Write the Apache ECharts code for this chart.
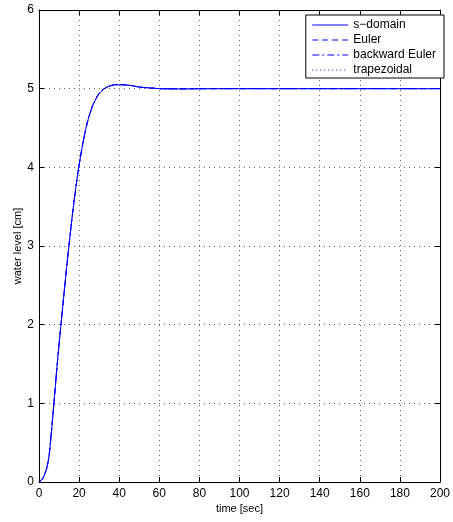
<!DOCTYPE html>
<html><head><meta charset="utf-8">
<script src="https://cdn.jsdelivr.net/npm/echarts@6/dist/echarts.min.js"></script>
<style>html,body{margin:0;padding:0;background:#fff}#c{width:453px;height:522px}</style>
</head><body><div id="c"></div>
<script>
const seriesNames = ['s\u2212domain', 'Euler', 'backward Euler', 'trapezoidal'];
const xTicks = [0, 20, 40, 60, 80, 100, 120, 140, 160, 180, 200];
const yTicks = [0, 1, 2, 3, 4, 5, 6];
const timeSec = [0,1,2,3,4,5,6,7,8,9,10,11,12,13,14,15,16,17,18,19,20,21,22,23,24,25,26,27,28,29,30,32,34,36,38,40,42,44,46,48,50,55,60,65,70,80,90,100,120,140,160,180,200];
const sDomainLevel = [0,0.02,0.05,0.11,0.19,0.33,0.58,0.87,1.17,1.47,1.75,2.01,2.27,2.53,2.78,3.02,3.25,3.47,3.67,3.86,4.03,4.18,4.32,4.45,4.56,4.65,4.73,4.80,4.85,4.90,4.94,4.99,5.02,5.04,5.05,5.05,5.05,5.045,5.04,5.03,5.02,5.01,5.0,4.998,4.997,4.999,5.0,5.0,5.0,5.0,5.0,5.0,5.0];
const eulerLevel = [0,0.02,0.05,0.11,0.19,0.33,0.58,0.87,1.17,1.47,1.75,2.01,2.27,2.53,2.78,3.02,3.25,3.47,3.67,3.86,4.03,4.18,4.32,4.45,4.56,4.65,4.73,4.80,4.85,4.90,4.94,4.99,5.02,5.04,5.05,5.05,5.05,5.045,5.04,5.03,5.02,5.01,5.0,4.998,4.997,4.999,5.0,5.0,5.0,5.0,5.0,5.0,5.0];
const backwardEulerLevel = [0,0.02,0.05,0.11,0.19,0.33,0.58,0.87,1.17,1.47,1.75,2.01,2.27,2.53,2.78,3.02,3.25,3.47,3.67,3.86,4.03,4.18,4.32,4.45,4.56,4.65,4.73,4.80,4.85,4.90,4.94,4.99,5.02,5.04,5.05,5.05,5.05,5.045,5.04,5.03,5.02,5.01,5.0,4.998,4.997,4.999,5.0,5.0,5.0,5.0,5.0,5.0,5.0];
const trapezoidalLevel = [0,0.02,0.05,0.11,0.19,0.33,0.58,0.87,1.17,1.47,1.75,2.01,2.27,2.53,2.78,3.02,3.25,3.47,3.67,3.86,4.03,4.18,4.32,4.45,4.56,4.65,4.73,4.80,4.85,4.90,4.94,4.99,5.02,5.04,5.05,5.05,5.05,5.045,5.04,5.03,5.02,5.01,5.0,4.998,4.997,4.999,5.0,5.0,5.0,5.0,5.0,5.0,5.0];

const FONT = "'Liberation Sans', Arial, Helvetica, sans-serif";
function pairs(t, v) { return t.map((x, i) => [x, v[i]]); }
const levels = [sDomainLevel, eulerLevel, backwardEulerLevel, trapezoidalLevel];
const lineTypes = ['solid', [6, 4], [7, 3, 2, 3], [1, 3]];

const chart = echarts.init(document.getElementById('c'), null, { renderer: 'canvas' });
const gridLine = { show: true, lineStyle: { color: '#666', width: 1, type: [1, 4] } };
chart.setOption({
  animation: false,
  backgroundColor: '#fff',
  textStyle: { fontFamily: FONT },
  grid: { left: 39, right: 10, top: 10, bottom: 40, containLabel: false },
  legend: {
    orient: 'vertical', right: 9, top: 15,
    data: seriesNames,
    backgroundColor: '#fff', borderColor: '#000', borderWidth: 1,
    padding: [4, 8, 2, 6],
    itemWidth: 36, itemHeight: 12, itemGap: 3,
    itemStyle: { color: 'rgba(0,0,0,0)', borderWidth: 0, opacity: 0 },
    lineStyle: { width: 1 },
    textStyle: { fontFamily: FONT, fontSize: 12, color: '#000' }
  },
  xAxis: [{
    type: 'value', min: xTicks[0], max: xTicks[xTicks.length - 1], interval: xTicks[1] - xTicks[0],
    name: 'time [sec]', nameLocation: 'middle', nameGap: 21, nameMoveOverlap: false,
    nameTextStyle: { fontFamily: FONT, fontSize: 11, color: '#000' },
    axisLine: { show: true, onZero: false, lineStyle: { color: '#000', width: 1 } },
    axisTick: { show: true, inside: true, length: 5, lineStyle: { color: '#000' } },
    axisLabel: { fontFamily: FONT, fontSize: 12, color: '#000', margin: 6 },
    splitLine: gridLine
  }, {
    type: 'value', position: 'top', min: xTicks[0], max: xTicks[xTicks.length - 1], interval: xTicks[1] - xTicks[0],
    axisLine: { show: true, onZero: false, lineStyle: { color: '#000', width: 1 } },
    axisTick: { show: true, inside: true, length: 5, lineStyle: { color: '#000' } },
    axisLabel: { show: false }, splitLine: { show: false }
  }],
  yAxis: [{
    type: 'value', min: yTicks[0], max: yTicks[yTicks.length - 1], interval: yTicks[1] - yTicks[0],
    name: 'water level [cm]', nameLocation: 'middle', nameGap: 16, nameMoveOverlap: false,
    nameTextStyle: { fontFamily: FONT, fontSize: 11, color: '#000' },
    axisLine: { show: true, onZero: false, lineStyle: { color: '#000', width: 1 } },
    axisTick: { show: true, inside: true, length: 5, lineStyle: { color: '#000' } },
    axisLabel: { fontFamily: FONT, fontSize: 12, color: '#000', margin: 5 },
    splitLine: gridLine
  }, {
    type: 'value', position: 'right', min: yTicks[0], max: yTicks[yTicks.length - 1], interval: yTicks[1] - yTicks[0],
    axisLine: { show: true, onZero: false, lineStyle: { color: '#000', width: 1 } },
    axisTick: { show: true, inside: true, length: 5, lineStyle: { color: '#000' } },
    axisLabel: { show: false }, splitLine: { show: false }
  }],
  series: seriesNames.map((name, i) => ({
    name, type: 'line', xAxisIndex: 0, yAxisIndex: 0,
    data: pairs(timeSec, levels[i]),
    showSymbol: false, symbol: 'none', smooth: 0.3,
    lineStyle: { color: '#0000ff', width: 1, type: lineTypes[i] },
    itemStyle: { color: '#0000ff' }
  }))
});
</script></body></html>
